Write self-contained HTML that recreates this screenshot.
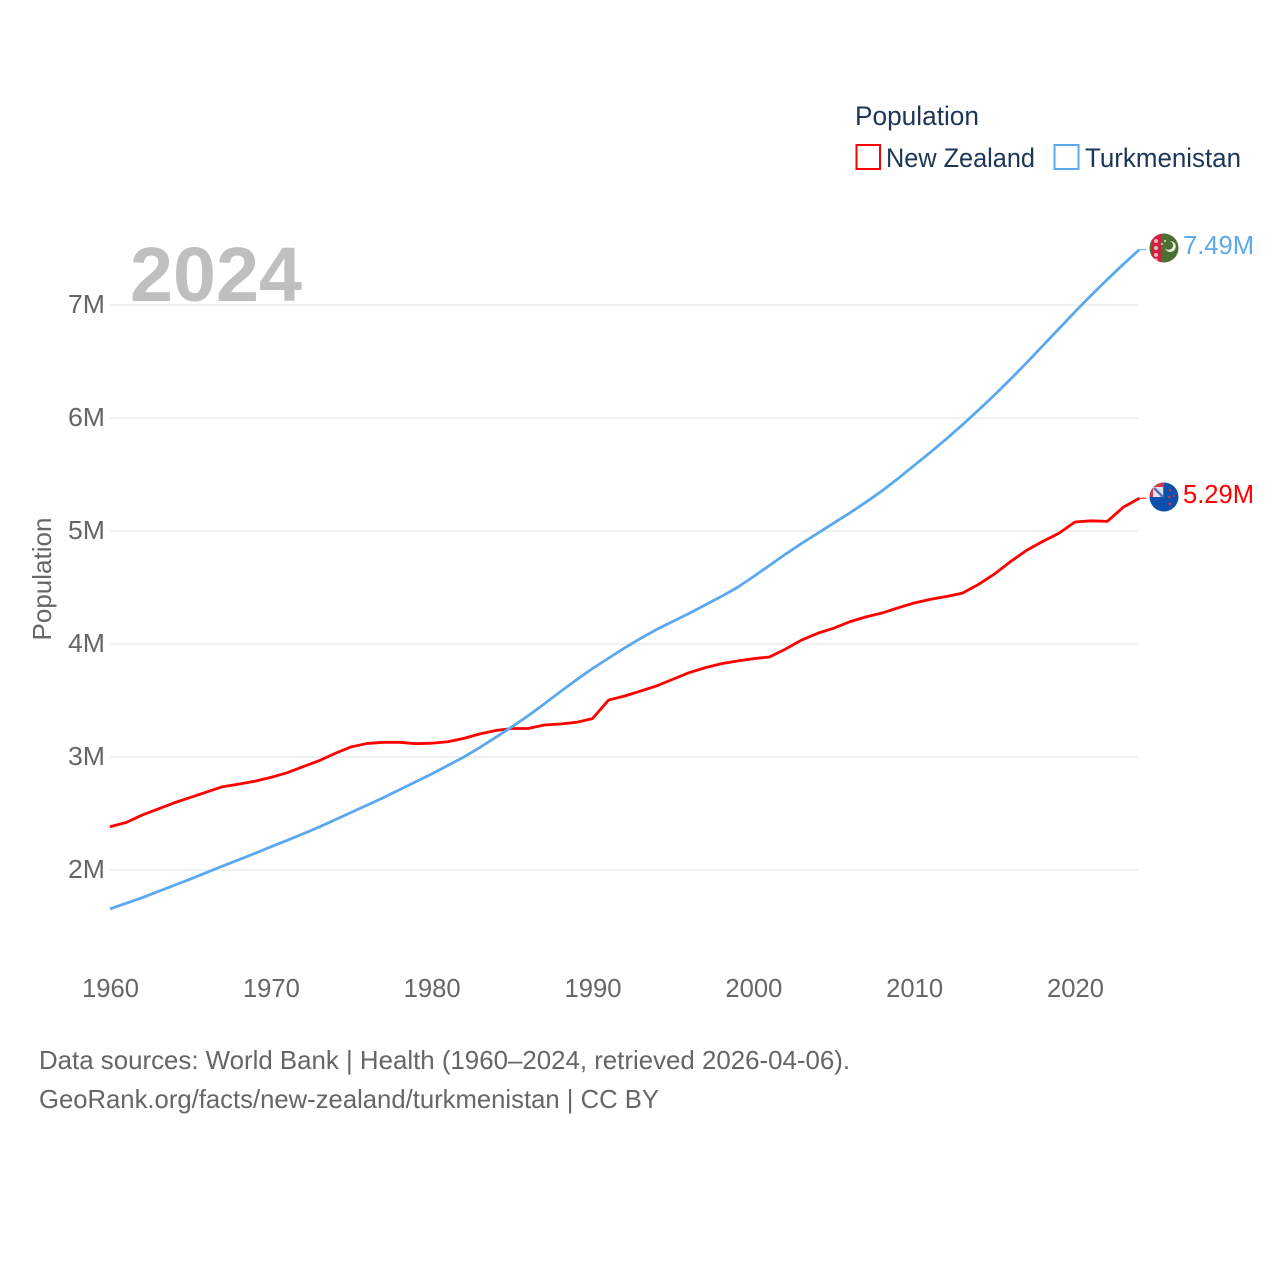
<!DOCTYPE html>
<html>
<head>
<meta charset="utf-8">
<title>Population: New Zealand vs Turkmenistan</title>
<style>
html,body{margin:0;padding:0;background:#fff;}
svg{display:block;font-family:"Liberation Sans",sans-serif;}
</style>
</head>
<body>
<svg id="chart" width="1280" height="1280" viewBox="0 0 1280 1280" xmlns="http://www.w3.org/2000/svg">
  <defs>
    <clipPath id="clip-tm"><circle cx="1164" cy="248" r="14.5"/></clipPath>
    <clipPath id="clip-nz"><circle cx="1164" cy="497" r="14.5"/></clipPath>
  </defs>
  <rect x="0" y="0" width="1280" height="1280" fill="#fff"/>

  <text x="855" y="125" font-size="27" fill="#1d3557" textLength="124" lengthAdjust="spacingAndGlyphs">Population</text>
  <g>
    <rect x="856.5" y="145" width="23.5" height="24" fill="none" stroke="#ff0000" stroke-width="2"/>
    <text x="886" y="167" font-size="27" fill="#1d3557" textLength="149" lengthAdjust="spacingAndGlyphs">New Zealand</text>
  </g>
  <g>
    <rect x="1054.5" y="145" width="24" height="24" fill="none" stroke="#5ba8ef" stroke-width="2"/>
    <text x="1085" y="167" font-size="27" fill="#1d3557" textLength="156" lengthAdjust="spacingAndGlyphs">Turkmenistan</text>
  </g>

  <g id="grid"></g>
  <g id="yticks"></g>
  <g id="xticks"></g>

  <text x="130" y="301" font-size="77" font-weight="bold" fill="#bfbfbf" textLength="172" lengthAdjust="spacingAndGlyphs">2024</text>
  <text transform="translate(51,579) rotate(-90)" text-anchor="middle" font-size="26" fill="#666" textLength="123" lengthAdjust="spacingAndGlyphs">Population</text>

  <g id="series"></g>

  <g clip-path="url(#clip-tm)">
    <rect x="1149" y="233" width="30" height="30" fill="#4c7031"/>
    <rect x="1151" y="233" width="10" height="30" fill="#d2213f"/>
    <circle cx="1156" cy="241" r="2" fill="#f0b8c0"/>
    <circle cx="1156" cy="248" r="2" fill="#c9cfc4"/>
    <circle cx="1156" cy="255" r="2" fill="#f0b8c0"/>
    <circle cx="1156" cy="260" r="1.6" fill="#f0b8c0"/>
    <path d="M1170 241 a5.5 5.5 0 1 1 -5 7 a4.5 4.5 0 1 0 5 -7z" fill="#e6ecdf"/>
    <circle cx="1165" cy="241" r="1" fill="#e6ecdf"/>
    <circle cx="1162" cy="244" r="1" fill="#e6ecdf"/>
  </g>
  <g clip-path="url(#clip-nz)">
    <rect x="1149" y="482" width="30" height="30" fill="#0a50ad"/>
    <rect x="1150" y="482" width="14" height="15" fill="#d8334a"/>
    <rect x="1153" y="487" width="10" height="10" fill="#dfe3f0"/>
    <path d="M1154 488 L1163 497" stroke="#5470b5" stroke-width="2.5"/>
    <circle cx="1170" cy="490" r="1.3" fill="#d9304a"/>
    <circle cx="1174" cy="496" r="1.1" fill="#d9304a"/>
    <circle cx="1169" cy="497" r="1.3" fill="#d9304a"/>
    <circle cx="1170" cy="504" r="1.5" fill="#d9304a"/>
  </g>

  <text x="1183" y="254" font-size="26" fill="#5ba8ef" textLength="71" lengthAdjust="spacingAndGlyphs">7.49M</text>
  <text x="1183" y="503" font-size="26" fill="#ff0000" textLength="71" lengthAdjust="spacingAndGlyphs">5.29M</text>

  <text x="39" y="1069" font-size="26" fill="#666" textLength="811" lengthAdjust="spacingAndGlyphs">Data sources: World Bank | Health (1960–2024, retrieved 2026-04-06).</text>
  <text x="39" y="1108" font-size="26" fill="#666" textLength="620" lengthAdjust="spacingAndGlyphs">GeoRank.org/facts/new-zealand/turkmenistan | CC BY</text>
</svg>
<script>
const startYear = 1960;
const newZealand = [2.383,2.42,2.486,2.54,2.595,2.642,2.69,2.737,2.76,2.785,2.82,2.86,2.914,2.967,3.032,3.09,3.12,3.13,3.13,3.118,3.122,3.135,3.165,3.205,3.235,3.252,3.252,3.283,3.292,3.307,3.34,3.504,3.54,3.584,3.63,3.688,3.746,3.79,3.825,3.85,3.87,3.885,3.955,4.035,4.095,4.14,4.197,4.24,4.274,4.32,4.363,4.395,4.42,4.45,4.527,4.62,4.73,4.83,4.908,4.98,5.08,5.09,5.085,5.21,5.29];
const turkmenistan = [1.655,1.705,1.755,1.81,1.865,1.92,1.977,2.035,2.09,2.147,2.205,2.262,2.32,2.38,2.445,2.51,2.575,2.64,2.71,2.78,2.85,2.925,3.0,3.085,3.175,3.268,3.365,3.47,3.578,3.683,3.783,3.875,3.965,4.05,4.13,4.2,4.27,4.345,4.42,4.50,4.595,4.695,4.795,4.89,4.98,5.07,5.16,5.255,5.355,5.465,5.58,5.695,5.815,5.94,6.07,6.205,6.345,6.49,6.64,6.79,6.94,7.085,7.225,7.36,7.49];
const yTickValues = [2,3,4,5,6,7];
const xTickValues = [1960,1970,1980,1990,2000,2010,2020];

const NS = 'http://www.w3.org/2000/svg';
function xScale(year){ return 110 + (year - 1960) * (1075 - 110) / 60; }
function yScale(v){ return 870 - (v - 2) * 113; }
function make(tag, attrs, text){
  const el = document.createElementNS(NS, tag);
  for (const k in attrs) el.setAttribute(k, attrs[k]);
  if (text !== undefined) el.textContent = text;
  return el;
}

const grid = document.getElementById('grid');
const yticks = document.getElementById('yticks');
yTickValues.forEach(function(v){
  const line = make('line', {x1:110, x2:1138, y1:yScale(v), y2:yScale(v), stroke:'#ececec', 'stroke-width':1.6});
  
  
  grid.appendChild(line);
  const label = make('text', {x:105, y:yScale(v) + 8, 'text-anchor':'end', 'font-size':25.5, fill:'#666', textLength:37, lengthAdjust:'spacingAndGlyphs'}, v + 'M');
  
  
  yticks.appendChild(label);
});

const xticks = document.getElementById('xticks');
xTickValues.forEach(function(year){
  const label = make('text', {x:xScale(year) + 0.5, y:997, 'text-anchor':'middle', 'font-size':25.5, fill:'#666', textLength:57, lengthAdjust:'spacingAndGlyphs'}, String(year));
  
  
  xticks.appendChild(label);
});

function pathFor(values){
  return values.map(function(v, i){
    return (i ? 'L' : 'M') + xScale(startYear + i).toFixed(2) + ' ' + yScale(v).toFixed(2);
  }).join(' ');
}
const seriesGroup = document.getElementById('series');

const nzLine = make('path', {d:pathFor(newZealand), fill:'none', stroke:'#ff0000', 'stroke-width':2.8, 'stroke-linejoin':'round'});


seriesGroup.appendChild(nzLine);

const tmLine = make('path', {d:pathFor(turkmenistan), fill:'none', stroke:'#5ba8ef', 'stroke-width':2.8, 'stroke-linejoin':'round'});


seriesGroup.appendChild(tmLine);

const lastX = xScale(startYear + newZealand.length - 1);

const nzLead = make('line', {x1:lastX, x2:lastX + 7, y1:yScale(newZealand[newZealand.length - 1]), y2:yScale(newZealand[newZealand.length - 1]), stroke:'#ff0000', 'stroke-width':1});


seriesGroup.appendChild(nzLead);

const tmLead = make('line', {x1:lastX, x2:lastX + 7, y1:yScale(turkmenistan[turkmenistan.length - 1]), y2:yScale(turkmenistan[turkmenistan.length - 1]), stroke:'#5ba8ef', 'stroke-width':1});


seriesGroup.appendChild(tmLead);
</script>
</body>
</html>
